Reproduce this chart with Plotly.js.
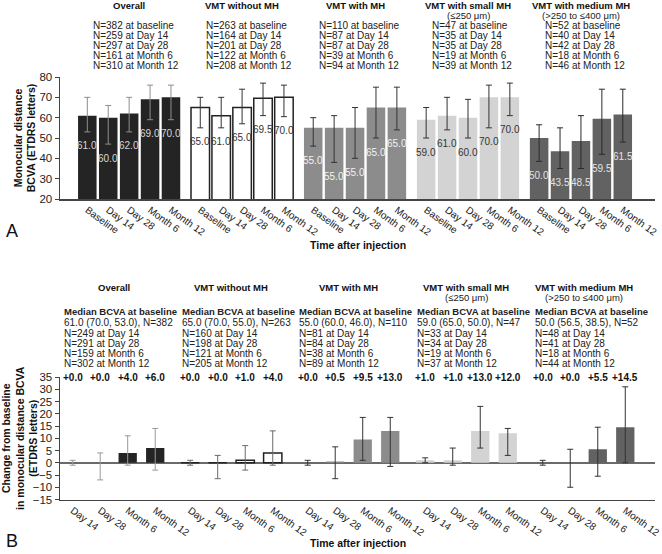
<!DOCTYPE html>
<html><head><meta charset="utf-8">
<script src="https://cdn.plot.ly/plotly-3.0.1.min.js"></script>
<style>html,body{margin:0;padding:0;background:#fff}#chart{width:662px;height:554px}</style>
</head><body><div id="chart"></div>
<script>
// ---------- DATA ----------
const groupNames = ["Overall", "VMT without MH", "VMT with MH", "VMT with small MH", "VMT with medium MH"];
const groupSubtitles = ["", "", "", "(\u2264250 \u03bcm)", "(>250 to \u2264400 \u03bcm)"];
const timepointsA = ["Baseline", "Day 14", "Day 28", "Month 6", "Month 12"];
const nLabelsA = ["baseline", "Day 14", "Day 28", "Month 6", "Month 12"];
const timepointsB = ["Day 14", "Day 28", "Month 6", "Month 12"];

// Panel A: median BCVA, upper (Q3) and lower (Q1) whisker ends
const overallA = [61.0, 60.0, 62.0, 69.0, 70.0];
const overallA_q3 = [70, 66, 70, 76, 76];
const overallA_q1 = [53, 47, 53, 59, 59];
const noMhA = [65.0, 61.0, 65.0, 69.5, 70.0];
const noMhA_q3 = [70, 70, 74, 77, 76];
const noMhA_q1 = [55, 55, 57, 61, 60.5];
const withMhA = [55.0, 55.0, 55.0, 65.0, 65.0];
const withMhA_q3 = [60, 61, 65, 75, 75];
const withMhA_q1 = [46, 38, 40, 50, 54];
const smallMhA = [59.0, 61.0, 60.0, 70.0, 70.0];
const smallMhA_q3 = [65, 70, 69, 76, 77];
const smallMhA_q1 = [50, 54, 50, 55, 61];
const mediumMhA = [50.0, 43.5, 48.5, 59.5, 61.5];
const mediumMhA_q3 = [56.5, 55, 61, 74, 74];
const mediumMhA_q1 = [38.5, 35, 35, 42, 48];

const overallA_n = [382, 259, 297, 161, 310];
const noMhA_n = [263, 164, 201, 122, 208];
const withMhA_n = [110, 87, 87, 39, 94];
const smallMhA_n = [47, 35, 35, 19, 39];
const mediumMhA_n = [52, 40, 42, 18, 46];

// Panel B: median change from baseline, upper and lower whisker ends
const overallB = [0.0, 0.0, 4.0, 6.0];
const overallB_hi = [1, 4, 11, 14];
const overallB_lo = [-1, -7, -1, -3];
const noMhB = [0.0, 0.0, 1.0, 4.0];
const noMhB_hi = [1, 3, 7, 13];
const noMhB_lo = [-1, -6.5, -3, -1];
const withMhB = [0.0, 0.5, 9.5, 13.0];
const withMhB_hi = [1, 6.5, 18.5, 18.5];
const withMhB_lo = [-1, -6.5, 1, -1.5];
const smallMhB = [1.0, 1.0, 13.0, 12.0];
const smallMhB_hi = [2, 6, 23, 14];
const smallMhB_lo = [0, -1, 6, 3];
const mediumMhB = [0.0, 0.0, 5.5, 14.5];
const mediumMhB_hi = [1, 5.5, 14.5, 31];
const mediumMhB_lo = [-1, -10, -5.5, 0];

const overallB_n = [249, 291, 159, 302];
const noMhB_n = [160, 198, 121, 205];
const withMhB_n = [81, 84, 38, 89];
const smallMhB_n = [33, 34, 19, 37];
const mediumMhB_n = [48, 41, 18, 44];

// ---------- STYLE ----------
const FONT = "Liberation Sans, Arial, Helvetica, sans-serif";
const H = 554;
const py = p => 1 - p / H;
const px = p => (p - 60) / 595;
const barColors = ["#242424", "#ffffff", "#8c8c8c", "#d3d3d3", "#626262"];
const barLine = ["#242424", "#222222", "#8c8c8c", "#d3d3d3", "#626262"];
const barLineW = [0, 1.5, 0, 0, 0];
const errA = ["#8e8e8e", "#333333", "#333333", "#333333", "#2a2a2a"];
const errB = ["#999999", "#6a6a6a", "#333333", "#333333", "#333333"];
const lblA = ["#d8d8d8", "#333333", "#f2f2f2", "#333333", "#e2e2e2"];
const GAP_A = 5.4, GAP_B = 4.27;

const medA = [overallA, noMhA, withMhA, smallMhA, mediumMhA];
const q3A = [overallA_q3, noMhA_q3, withMhA_q3, smallMhA_q3, mediumMhA_q3];
const q1A = [overallA_q1, noMhA_q1, withMhA_q1, smallMhA_q1, mediumMhA_q1];
const nA = [overallA_n, noMhA_n, withMhA_n, smallMhA_n, mediumMhA_n];
const medB = [overallB, noMhB, withMhB, smallMhB, mediumMhB];
const hiB = [overallB_hi, noMhB_hi, withMhB_hi, smallMhB_hi, mediumMhB_hi];
const loB = [overallB_lo, noMhB_lo, withMhB_lo, smallMhB_lo, mediumMhB_lo];
const nB = [overallB_n, noMhB_n, withMhB_n, smallMhB_n, mediumMhB_n];

const traces = [];
const ann = [];
const tickvalsA = [], ticktextA = [], tickvalsB = [], ticktextB = [];
const T = (o) => Object.assign({ showarrow: false, xanchor: "center", yanchor: "middle" }, o);

groupNames.forEach((gname, g) => {
  // Panel A
  const xs = timepointsA.map((t, i) => g * GAP_A + i);
  xs.forEach((x, i) => { tickvalsA.push(x); ticktextA.push(timepointsA[i]); });
  traces.push({
    type: "bar", x: xs, y: medA[g], xaxis: "x", yaxis: "y", width: 0.885,
    marker: { color: barColors[g], line: { color: barLine[g], width: barLineW[g] } },
    error_y: { type: "data", symmetric: false,
      array: q3A[g].map((v, i) => v - medA[g][i]),
      arrayminus: medA[g].map((v, i) => v - q1A[g][i]),
      color: errA[g], thickness: 1, width: 3 },
    hoverinfo: "skip", showlegend: false
  });
  xs.forEach((x, i) => {
    ann.push(T({ xref: "x", yref: "y", x: x, y: q1A[g][i], yshift: -14,
      text: medA[g][i].toFixed(1), font: { family: FONT, size: 10, color: lblA[g] } }));
  });
  const cxA = g * GAP_A + 2;
  ann.push(T({ xref: "x", yref: "paper", x: cxA, y: py(5), text: "<b>" + gname + "</b>",
    font: { family: FONT, size: 9.5, color: "#111" } }));
  if (groupSubtitles[g]) ann.push(T({ xref: "x", yref: "paper", x: cxA, y: py(15.5), text: groupSubtitles[g],
    font: { family: FONT, size: 9.5, color: "#222" } }));
  nA[g].forEach((n, i) => {
    ann.push(T({ xref: "x", yref: "paper", x: cxA, xanchor: "left", xshift: -38, y: py(25.7 + 10 * i),
      text: "N=" + n + " at " + nLabelsA[i], font: { family: FONT, size: 10, color: "#222" } }));
  });

  // Panel B
  const xb = timepointsB.map((t, i) => g * GAP_B + i);
  xb.forEach((x, i) => { tickvalsB.push(x); ticktextB.push(timepointsB[i]); });
  traces.push({
    type: "bar", x: xb, y: medB[g], xaxis: "x2", yaxis: "y2", width: 0.665,
    marker: { color: barColors[g], line: { color: barLine[g], width: barLineW[g] } },
    error_y: { type: "data", symmetric: false,
      array: hiB[g].map((v, i) => v - medB[g][i]),
      arrayminus: medB[g].map((v, i) => v - loB[g][i]),
      color: errB[g], thickness: 1, width: 3 },
    hoverinfo: "skip", showlegend: false
  });
  xb.forEach((x, i) => {
    const v = medB[g][i];
    ann.push(T({ xref: "x2", yref: "y2", x: x, y: 35,
      text: "<b>" + (v >= 0 ? "+" : "") + v.toFixed(1) + "</b>",
      font: { family: FONT, size: 10, color: "#111" } }));
  });
  const cxB = g * GAP_B + 1.5;
  ann.push(T({ xref: "x2", yref: "paper", x: cxB, y: py(287), text: "<b>" + gname + "</b>",
    font: { family: FONT, size: 9.5, color: "#111" } }));
  if (groupSubtitles[g]) ann.push(T({ xref: "x2", yref: "paper", x: cxB, y: py(297.5), text: groupSubtitles[g],
    font: { family: FONT, size: 9.5, color: "#222" } }));
  const blockLines = [
    { t: "<b>Median BCVA at baseline</b>", y: 311.5, s: 9.5 },
    { t: medA[g][0].toFixed(1) + " (" + q3A[g][0].toFixed(1) + ", " + q1A[g][0].toFixed(1) + "), N=" + nA[g][0], y: 322, s: 10 }
  ];
  nB[g].forEach((n, i) => blockLines.push({ t: "N=" + n + " at " + timepointsB[i], y: 333.5 + 10 * i, s: 10 }));
  blockLines.forEach(l => ann.push(T({ xref: "x2", yref: "paper", x: cxB, xanchor: "left", xshift: -51.5,
    y: py(l.y), text: l.t, font: { family: FONT, size: l.s, color: "#222" } })));
});

// Axis titles & panel letters
ann.push(T({ xref: "paper", yref: "paper", x: 0.5, y: py(245), text: "<b>Time after injection</b>",
  font: { family: FONT, size: 10.5, color: "#111" } }));
ann.push(T({ xref: "paper", yref: "paper", x: 0.5, y: py(543), text: "<b>Time after injection</b>",
  font: { family: FONT, size: 10.5, color: "#111" } }));
ann.push(T({ xref: "paper", yref: "paper", x: px(12), y: py(231), text: "A",
  font: { family: FONT, size: 18, color: "#111" } }));
ann.push(T({ xref: "paper", yref: "paper", x: px(12), y: py(541), text: "B",
  font: { family: FONT, size: 18, color: "#111" } }));

const axCommon = { showline: true, linecolor: "#444", linewidth: 1.5, showgrid: false, fixedrange: true };
const layout = {
  width: 662, height: 554, margin: { l: 60, r: 7, t: 0, b: 0 },
  paper_bgcolor: "#fff", plot_bgcolor: "#fff", font: { family: FONT, color: "#222" },
  barmode: "overlay", showlegend: false,
  xaxis: Object.assign({}, axCommon, { anchor: "y", range: [-1.306, 27.14], tickmode: "array",
    tickvals: tickvalsA, ticktext: ticktextA, tickangle: 36, ticks: "", zeroline: false,
    ticklabeloverflow: "allow", tickfont: { family: FONT, size: 10, color: "#222" } }),
  yaxis: Object.assign({}, axCommon, { domain: [py(199), py(77)], range: [20, 80], dtick: 10, tick0: 20,
    ticks: "outside", ticklen: 4, tickcolor: "#444", zeroline: false,
    tickfont: { family: FONT, size: 11.5, color: "#222" },
    title: { text: "<b>Monocular distance</b><br><b>BCVA (ETDRS letters)</b>", font: { family: FONT, size: 10.5, color: "#111" } } }),
  xaxis2: Object.assign({}, axCommon, { anchor: "y2", range: [-0.46, 21.16], tickmode: "array",
    tickvals: tickvalsB, ticktext: ticktextB, tickangle: 36, ticks: "", zeroline: false,
    ticklabeloverflow: "allow", tickfont: { family: FONT, size: 10, color: "#222" } }),
  yaxis2: Object.assign({}, axCommon, { domain: [py(499.5), py(377)], range: [-15, 35], dtick: 5, tick0: 0,
    ticks: "outside", ticklen: 4, tickcolor: "#444", zeroline: true, zerolinecolor: "#6a6a6a", zerolinewidth: 1.5,
    tickfont: { family: FONT, size: 11.5, color: "#222" },
    title: { text: "<b>Change from baseline</b><br><b>in monocular distance BCVA</b><br><b>(ETDRS letters)</b>", font: { family: FONT, size: 10.5, color: "#111" } } }),
  annotations: ann
};
Plotly.newPlot("chart", traces, layout, { displayModeBar: false, staticPlot: true });
</script></body></html>
